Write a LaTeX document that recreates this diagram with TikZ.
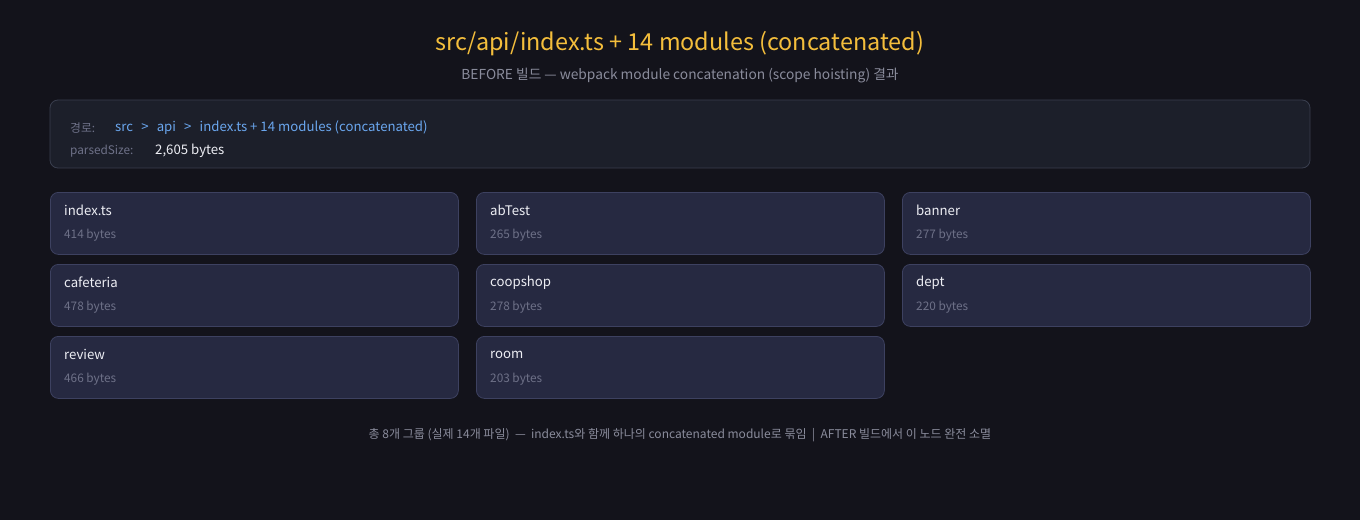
\documentclass[tikz,border=0pt]{standalone}
\usepackage{fontspec}
\setmainfont{Noto Sans CJK KR}
\definecolor{bg}{HTML}{13131B}
\definecolor{titlec}{HTML}{F4BE3C}
\definecolor{subc}{HTML}{8A8C9C}
\definecolor{infofill}{HTML}{1C1F2A}
\definecolor{infoline}{HTML}{393E4E}
\definecolor{cardfill}{HTML}{262941}
\definecolor{cardline}{HTML}{3D4160}
\definecolor{linkc}{HTML}{6AA6EE}
\definecolor{dimc}{HTML}{6E7188}
\definecolor{whitec}{HTML}{EDEEF4}
\tikzset{
  card/.style={draw=cardline, fill=cardfill, rounded corners=8pt, line width=0.8pt, minimum width=408pt, minimum height=62pt, inner sep=0pt},
  cardtitle/.style={anchor=west, text=whitec, font=\fontsize{13.2}{15}\selectfont, inner sep=0pt},
  cardsize/.style={anchor=west, text=dimc, font=\fontsize{11.8}{13}\selectfont, inner sep=0pt},
}
\begin{document}
\begin{tikzpicture}[x=1pt,y=-1pt]
\fill[bg] (0,0) rectangle (1360,520);
\useasboundingbox (0,0) rectangle (1360,520);
\node[text=titlec, font=\fontsize{23.4}{27}\selectfont, inner sep=0pt] (title) at (680,43.5) {src/api/index.ts + 14 modules (concatenated)};
\node[text=subc, font=\fontsize{13.75}{16}\selectfont, inner sep=0pt] (sub) at (680,76) {BEFORE 빌드 — webpack module concatenation (scope hoisting) 결과};
\draw[draw=infoline, fill=infofill, rounded corners=8pt, line width=0.8pt] (50,100) rectangle (1310,168);
\node[anchor=west, text=dimc, font=\fontsize{11.8}{13}\selectfont, inner sep=0pt] (pl) at (70,128) {경로:};
\node[anchor=west, text=linkc, font=\fontsize{13.2}{15}\selectfont, inner sep=0pt] (path) at (115,128) {src\hspace{0.62em}>\hspace{0.62em}api\hspace{0.62em}>\hspace{0.62em}index.ts + 14 modules (concatenated)};
\node[anchor=west, text=dimc, font=\fontsize{11.8}{13}\selectfont, inner sep=0pt] (sl) at (70,151) {parsedSize:};
\node[anchor=west, text=whitec, font=\fontsize{13.2}{15}\selectfont, inner sep=0pt] (size) at (155,151) {2,605 bytes};
% cards
\foreach \n/\t/\b/\x/\y in {c1/index.ts/414/50/192, c2/abTest/265/476/192, c3/banner/277/902/192,
  c4/cafeteria/478/50/264, c5/coopshop/278/476/264, c6/dept/220/902/264,
  c7/review/466/50/336, c8/room/203/476/336}{
  \node[card, anchor=north west] (\n) at (\x,\y) {};
  \node[cardtitle] (\n t) at ([xshift=14pt,yshift=-18.5pt]\n.north west) {\t};
  \node[cardsize] (\n s) at ([xshift=14pt,yshift=-43.5pt]\n.north west) {\b\ bytes};
}
\node[text=subc, font=\fontsize{12}{14}\selectfont, inner sep=0pt] (foot) at (680,435) {총 8개 그룹 (실제 14개 파일) \ — \ index.ts와 함께 하나의 concatenated module로 묶임 \ | \ AFTER 빌드에서 이 노드 완전 소멸};
\end{tikzpicture}
\end{document}
